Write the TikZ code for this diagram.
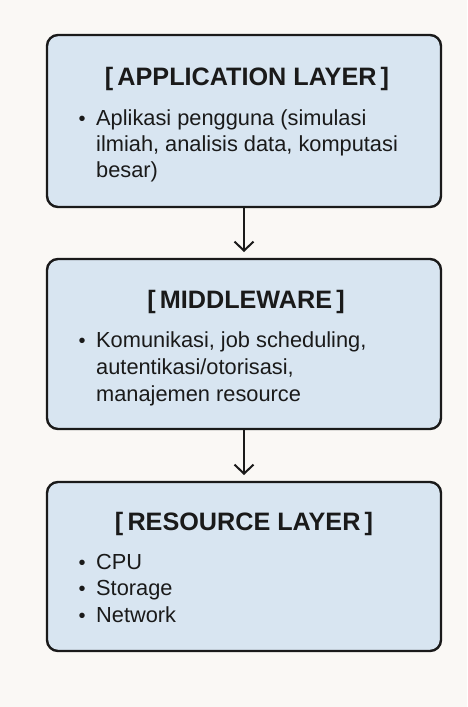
\documentclass[tikz,border=0pt]{standalone}
\usepackage{fontspec}
\setmainfont{Liberation Sans}
\usetikzlibrary{arrows.meta}
\definecolor{bgc}{HTML}{FAF8F5}
\definecolor{boxfill}{HTML}{D8E5F1}
\definecolor{ink}{HTML}{1A1A1A}
\tikzset{
  layer/.style={draw=ink, line width=2.4pt, fill=boxfill, rounded corners=11pt,
    minimum width=394pt, inner sep=0pt, outer sep=0pt},
  ttl/.style={anchor=base, inner sep=0pt, text=ink, font=\fontsize{25.2}{28}\selectfont\bfseries},
  txt/.style={anchor=base west, inner sep=0pt, text=ink, font=\fontsize{21.8}{26}\selectfont},
  bul/.style={anchor=base, inner sep=0pt, text=ink, font=\fontsize{20}{26}\selectfont},
  flow/.style={draw=ink, line width=2pt, -{Straight Barb[length=9pt,width=19pt]}, shorten >=7pt}
}
\begin{document}
\begin{tikzpicture}[x=1pt,y=-1pt]
\fill[bgc] (0,0) rectangle (467,707);
\useasboundingbox (0,0) rectangle (467,707);
% boxes
\node[layer, minimum height=172pt] (app) at (244,121) {};
\node[layer, minimum height=170pt] (mid) at (244,344) {};
\node[layer, minimum height=169pt] (res) at (244,566.5) {};
% titles
\node[ttl] (t1) at (247,85) {[\,APPLICATION LAYER\,]};
\node[ttl] (t2) at (246,308) {[\,MIDDLEWARE\,]};
\node[ttl] (t3) at (244,530) {[\,RESOURCE LAYER\,]};
% application layer
\node[bul] (b11) at (82,125) {•};
\node[txt] (l11) at (96,125) {Aplikasi pengguna (simulasi};
\node[txt] (l12) at (96,151) {ilmiah, analisis data, komputasi};
\node[txt] (l13) at (96,177) {besar)};
% middleware
\node[bul] (b21) at (82,347) {•};
\node[txt] (l21) at (96,347) {Komunikasi, job scheduling,};
\node[txt] (l22) at (96,374) {autentikasi/otorisasi,};
\node[txt] (l23) at (96,401) {manajemen resource};
% resource layer
\node[bul] (b31) at (82,569) {•};
\node[txt] (l31) at (96,569) {CPU};
\node[bul] (b32) at (82,595) {•};
\node[txt] (l32) at (96,595) {Storage};
\node[bul] (b33) at (82,622) {•};
\node[txt] (l33) at (96,622) {Network};
% connectors
\draw[flow] (app.south) -- (mid.north);
\draw[flow] (mid.south) -- (res.north);
\end{tikzpicture}
\end{document}
